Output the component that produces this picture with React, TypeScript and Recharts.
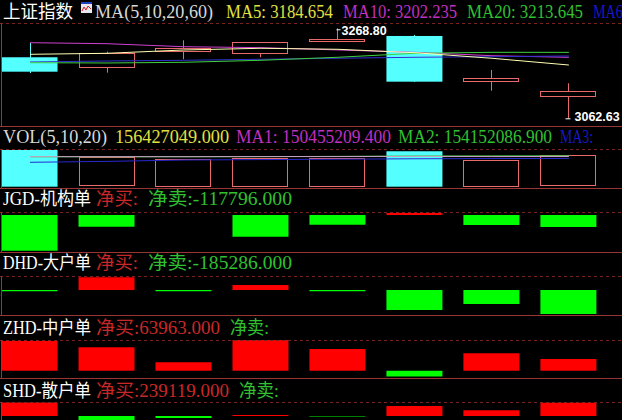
import React from 'react';
import { ComposedChart, Bar, Line, XAxis, YAxis, Cell } from 'recharts';

const W = 622;
const H = 420;

// eight trading days, no dates are shown on the chart
const days = [0, 1, 2, 3, 4, 5, 6, 7];

// 上证指数 daily candles
const open = [3202.4, 3181.7, 3216.1, 3211.5, 3240.4, 3251.2, 3148.7, 3115.3];
const close = [3169.4, 3212.9, 3223.0, 3236.7, 3245.0, 3146.5, 3154.9, 3125.8];
const high = [3235.1, 3215.2, 3241.3, 3237.4, 3268.8, 3253.5, 3173.3, 3142.8];
const low = [3166.4, 3167.1, 3197.8, 3202.4, 3238.1, 3145.8, 3125.8, 3062.63];

const ma5 = [3209.2, 3211.5, 3219.1, 3223.0, 3220.7, 3212.9, 3200.1, 3184.654];
const ma10 = [3235.8, 3233.5, 3226.6, 3224.4, 3219.1, 3213.8, 3206.0, 3202.235];
const ma20 = [3190.0, 3189.3, 3190.9, 3195.5, 3202.4, 3211.5, 3213.8, 3213.645];
const ma60 = [3191.6, 3193.9, 3195.5, 3197.8, 3200.1, 3202.4, 3203.7, 3205.3];

// volume
const vol = [182800000, 146400000, 138000000, 143000000, 145000000, 176500000, 133500000, 156427049];
const volMa1 = [149500000, 149500000, 149500000, 150000000, 150000000, 151000000, 150000000, 150455209.4];
const volMa2 = [149000000, 149000000, 149000000, 149500000, 151000000, 153000000, 153500000, 154152086.9];
const volMa3 = [121500000, 126000000, 133000000, 135000000, 137000000, 139000000, 140000000, 141000000];

// net flow by order size
const jgd = [-350400, -114800, 0, -213000, -95200, 19600, -98200, -117796];
const dhd = [-10000, 98000, -10000, 38600, -10000, -154400, -108000, -185286];
const zhd = [162400, 127900, 45900, 167800, 118600, -31200, 95100, 63963];
const shd = [243000, -111100, -35900, 18000, -10000, 179800, 102500, 239119];

const rows = days.map((d, i) => ({
  i: d,
  o: open[i], c: close[i], h: high[i], l: low[i],
  ma5: ma5[i], ma10: ma10[i], ma20: ma20[i], ma60: ma60[i],
  vol: vol[i], vma1: volMa1[i], vma2: volMa2[i], vma3: volMa3[i],
  jgd: jgd[i], dhd: dhd[i], zhd: zhd[i], shd: shd[i],
}));

const X_DOMAIN = [-0.39, 7.69];
const CYAN = '#54ffff';
const HOLLOW = '#e86a6a';
const RED = '#ff0000';
const GREEN = '#00ff00';
const FONT = "'Liberation Serif', 'Noto Sans CJK SC', serif";

const maxHigh = Math.max(...high);
const minLow = Math.min(...low);
const last = days.length - 1;

function Candle(props: any) {
  const { x, y, width, height, payload } = props;
  const { o, c, h, l } = payload;
  const top0 = Math.min(y, y + height);
  const ppu = Math.abs(height) / (h - l);
  const yOf = (v: number) => top0 + (h - v) * ppu;
  const cx = Math.round(x + width / 2) + 0.5;
  const up = c >= o;
  const bTop = yOf(Math.max(o, c));
  const bBot = yOf(Math.min(o, c));
  const color = up ? HOLLOW : CYAN;
  return (
    <g>
      <line x1={cx} x2={cx} y1={yOf(h)} y2={yOf(l)} stroke={color} />
      {up ? (
        <rect x={Math.round(x) + 0.5} y={Math.round(bTop) + 0.5} width={Math.round(width) - 1}
          height={Math.max(1, Math.round(bBot - bTop))} fill="#000" stroke={color} />
      ) : (
        <rect x={x} y={bTop} width={width} height={Math.max(1, bBot - bTop)} fill={color} />
      )}
      {h === maxHigh && (
        <g>
          <line x1={cx - 1} x2={cx + 3} y1={yOf(h) + 1.5} y2={yOf(h) + 1.5} stroke="#fff" />
          <text x={cx + 4} y={yOf(h) + 7} fill="#fff" fontSize={12.5} fontWeight="bold"
            fontFamily="'Liberation Sans', Arial, sans-serif">{h.toFixed(2)}</text>
        </g>
      )}
      {l === minLow && (
        <g>
          <line x1={cx - 3} x2={cx + 2} y1={yOf(l) + 0.5} y2={yOf(l) + 0.5} stroke="#fff" />
          <text x={cx + 6} y={yOf(l) + 2.5} fill="#fff" fontSize={12.5} fontWeight="bold"
            fontFamily="'Liberation Sans', Arial, sans-serif">{l.toFixed(2)}</text>
        </g>
      )}
    </g>
  );
}

function VolBar(props: any) {
  const { x, y, width, height, payload } = props;
  if (payload.c >= payload.o) {
    return <rect x={Math.round(x) + 0.5} y={Math.round(y) + 0.5} width={Math.round(width) - 1}
      height={Math.round(height) - 1} fill="#000" stroke={HOLLOW} />;
  }
  return <rect x={x} y={y} width={width} height={height} fill={CYAN} />;
}

function Panel({ top, height, domain, children }: any) {
  return (
    <div style={{ position: 'absolute', left: 0, top, width: W, height }}>
      <ComposedChart width={W} height={height} data={rows} margin={{ top: 0, right: 0, bottom: 0, left: 0 }}>
        <XAxis dataKey="i" type="number" domain={X_DOMAIN} allowDataOverflow hide />
        <YAxis type="number" domain={domain} allowDataOverflow hide />
        {children}
      </ComposedChart>
    </div>
  );
}

function flowBar(key: string) {
  return (
    <Bar dataKey={key} barSize={56} isAnimationActive={false}>
      {rows.map((r: any, i) => (
        <Cell key={`c-${i}`} fill={r[key] >= 0 ? RED : GREEN} />
      ))}
    </Bar>
  );
}

function Seg({ x, y, w, color, children }: any) {
  return (
    <text x={x} y={y} fill={color} fontSize={18} fontFamily={FONT}
      textLength={w} lengthAdjust="spacingAndGlyphs">{children}</text>
  );
}

const fmt = (v: number) => v.toFixed(3);
const buy = (v: number) => '净买:' + (v > 0 ? fmt(v) : '');
const sell = (v: number) => '净卖:' + (v < 0 ? fmt(v) : '');

const plots = [[23, 126], [149, 188], [212, 252], [276, 315], [340, 378], [402, 420]];
const LINE = '#993535';

export default function App() {
  return (
    <div style={{ position: 'absolute', left: 0, top: 0, width: W, height: H, background: '#000', overflow: 'hidden' }}>
      <Panel top={23} height={103} domain={[3045.0, 3280.9]}>
        <Line dataKey="ma10" stroke="#d040d0" dot={false} activeDot={false} isAnimationActive={false} />
        <Line dataKey="ma60" stroke="#3030d0" dot={false} activeDot={false} isAnimationActive={false} />
        <Line dataKey="ma20" stroke="#40d040" dot={false} activeDot={false} isAnimationActive={false} />
        <Line dataKey="ma5" stroke="#ffffb0" dot={false} activeDot={false} isAnimationActive={false} />
        <Bar dataKey={(r: any) => [r.l, r.h]} barSize={56} shape={<Candle />} isAnimationActive={false} />
      </Panel>
      <Panel top={149} height={39} domain={[-6500000, 187700000]}>
        <Bar dataKey="vol" barSize={56} shape={<VolBar />} isAnimationActive={false} />
        <Line dataKey="vma3" stroke="#2828d0" dot={false} activeDot={false} isAnimationActive={false} />
        <Line dataKey="vma2" stroke="#40c040" dot={false} activeDot={false} isAnimationActive={false} />
        <Line dataKey="vma1" stroke="#c8a0c8" dot={false} activeDot={false} isAnimationActive={false} />
      </Panel>
      <Panel top={212} height={40} domain={[-363200, 29450]}>{flowBar('jgd')}</Panel>
      <Panel top={276} height={39} domain={[-193000, 108080]}>{flowBar('dhd')}</Panel>
      <Panel top={340} height={38} domain={[-39900, 167800]}>{flowBar('zhd')}</Panel>
      <Panel top={402} height={40} domain={[-467500, 251700]}>{flowBar('shd')}</Panel>

      <svg width={W} height={H} style={{ position: 'absolute', left: 0, top: 0, pointerEvents: 'none' }}>
        {plots.map(([a, b], i) => (
          <g key={i}>
            <line x1={0} x2={W} y1={a + 0.5} y2={a + 0.5} stroke="#7a2222" strokeDasharray="3 3" />
            {b < H && <line x1={0} x2={W} y1={b + 0.5} y2={b + 0.5} stroke={LINE} />}
            <line x1={1.5} x2={1.5} y1={a} y2={b} stroke={LINE} />
          </g>
        ))}

        <Seg x={3} y={17.5} w={70} color="#ffffff">上证指数</Seg>
        <rect x={81} y={2} width={11} height={11} fill="#e8e8f0" />
        <rect x={81} y={2} width={11} height={2} fill="#2040c0" />
        <polyline points="82,11 84,7 86,10 88,6 91,9" fill="none" stroke="#d02020" />
        <Seg x={95} y={17.5} w={118} color="#d8d8d8">MA(5,10,20,60)</Seg>
        <Seg x={226} y={17.5} w={107} color="#e0e040">{'MA5: ' + fmt(ma5[last])}</Seg>
        <Seg x={343} y={17.5} w={114} color="#c030c0">{'MA10: ' + fmt(ma10[last])}</Seg>
        <Seg x={467} y={17.5} w={116} color="#30c030">{'MA20: ' + fmt(ma20[last])}</Seg>
        <Seg x={593} y={17.5} w={41} color="#1818c8">MA60:</Seg>

        <Seg x={3} y={142.5} w={104} color="#d8d8d8">VOL(5,10,20)</Seg>
        <Seg x={115} y={142.5} w={114} color="#e0e040">{fmt(vol[last])}</Seg>
        <Seg x={236} y={142.5} w={155} color="#c030c0">{'MA1: ' + fmt(volMa1[last])}</Seg>
        <Seg x={398} y={142.5} w={154} color="#30c030">{'MA2: ' + fmt(volMa2[last])}</Seg>
        <Seg x={560} y={142.5} w={33} color="#1818c8">MA3:</Seg>

        <Seg x={3} y={205} w={88} color="#ffffff">JGD-机构单</Seg>
        <Seg x={96} y={205} w={42} color="#c82828">{buy(jgd[last])}</Seg>
        <Seg x={148} y={205} w={144} color="#30c030">{sell(jgd[last])}</Seg>

        <Seg x={3} y={269} w={88} color="#ffffff">DHD-大户单</Seg>
        <Seg x={96} y={269} w={42} color="#c82828">{buy(dhd[last])}</Seg>
        <Seg x={148} y={269} w={144} color="#30c030">{sell(dhd[last])}</Seg>

        <Seg x={3} y={333.5} w={88} color="#ffffff">ZHD-中户单</Seg>
        <Seg x={96} y={333.5} w={124} color="#c82828">{buy(zhd[last])}</Seg>
        <Seg x={230} y={333.5} w={39} color="#30c030">{sell(zhd[last])}</Seg>

        <Seg x={3} y={397} w={88} color="#ffffff">SHD-散户单</Seg>
        <Seg x={96} y={397} w={133} color="#c82828">{buy(shd[last])}</Seg>
        <Seg x={239} y={397} w={40} color="#30c030">{sell(shd[last])}</Seg>
      </svg>
    </div>
  );
}
